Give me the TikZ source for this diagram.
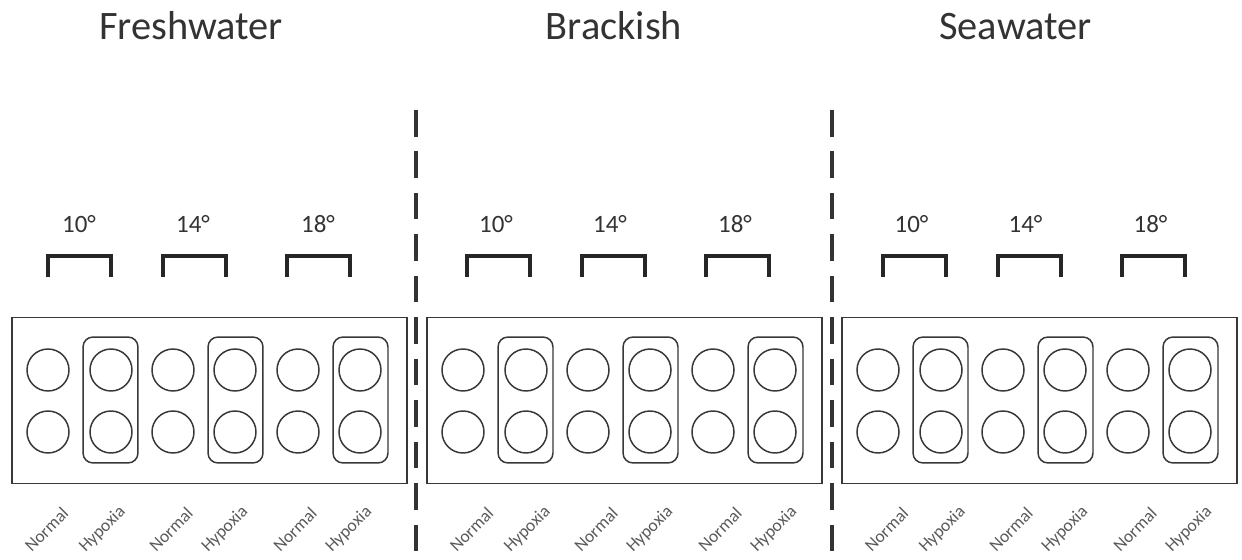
\documentclass[tikz,border=0pt]{standalone}
\usepackage{fontspec}
\setmainfont{Carlito}
\usetikzlibrary{positioning}
\definecolor{inkgray}{HTML}{383838}
\definecolor{titlegray}{HTML}{333333}
\definecolor{labelgray}{HTML}{5A5A5A}

\begin{document}
\begin{tikzpicture}[x=0.02cm, y=-0.02cm,
    tank/.style={draw=inkgray, line width=1.1pt, minimum width=7.9cm, minimum height=3.32cm, inner sep=0pt},
    well/.style={circle, draw=inkgray, line width=0.85pt, minimum size=0.84cm, inner sep=0pt},
    hypobox/.style={draw=inkgray, line width=0.85pt, rounded corners=0.2cm, minimum width=1.1cm, minimum height=2.52cm, inner sep=0pt},
    bracket/.style={draw=black!85, line width=1.9pt},
    divider/.style={draw=black!80, line width=2.2pt, dash pattern=on 15.1pt off 8.5pt},
    salin/.style={font=\fontsize{23}{27}\selectfont, text=titlegray, anchor=base},
    temp/.style={font=\fontsize{14.2}{17}\selectfont, text=titlegray, anchor=base},
    treat/.style={font=\fontsize{10}{12}\selectfont, text=labelgray, rotate=45, inner sep=0pt}]
  \useasboundingbox (0,0) rectangle (1242,560);
  % Salinity titles
  \node[salin] (fresh) at (191,40) {Freshwater};
  \node[salin] (brack) at (614,40) {Brackish};
  \node[salin] (sea) at (1015.5,40) {Seawater};
  % Dividers
  \coordinate (d1top) at (416,110);
  \coordinate (d1bot) at (416,557);
  \coordinate (d2top) at (832,110);
  \coordinate (d2bot) at (832,557);
  \draw[divider] (d1top) -- (d1bot);
  \draw[divider] (d2top) -- (d2bot);
  % Panels
  \foreach \p/\dx/\bs/\ls in {1/0/0/0, 2/415/4/10, 3/830/5/10} {
    \begin{scope}[shift={(\dx,0)}]
      \node[tank] (tank\p) at (209.5,400.5) {};
      % Hypoxia groups
      \foreach \k/\hx in {1/110.5, 2/235.5, 3/360.5}
        \node[hypobox] (hyp\p-\k) at (\hx,400) {};
      % Wells
      \foreach \c/\cx in {1/48, 2/111, 3/173, 4/235, 5/298, 6/360} {
        \node[well] (w\p-\c-1) at (\cx,370) {};
        \node[well] (w\p-\c-2) at (\cx,432) {};
      }
      % Temperature brackets
      \foreach \k/\bx/\tx/\tt in {1/48/79/10, 2/163/193/14, 3/287/318/18} {
        \draw[bracket] (\bx+\bs,277) -- (\bx+\bs,256) -- (\bx+\bs+63,256) -- (\bx+\bs+63,277);
        \node[temp] (t\p-\k) at (\tx+\bs/2,233) {\tt°};
      }
      % Treatment labels
      \foreach \c/\lx/\lab in {1/46.5/Normal, 2/102.5/Hypoxia, 3/171/Normal, 4/225/Hypoxia, 5/295/Normal, 6/349/Hypoxia}
        \node[treat] (l\p-\c) at (\lx+\ls,529.5) {\lab};
    \end{scope}
  }
\end{tikzpicture}
\end{document}
